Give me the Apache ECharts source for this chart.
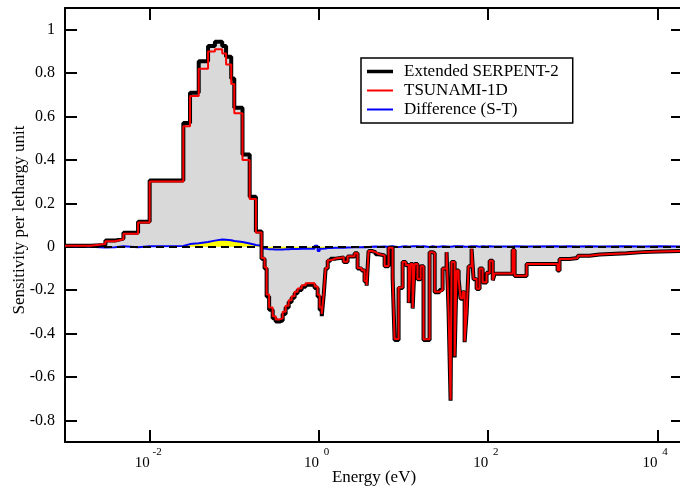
<!DOCTYPE html>
<html>
<head>
<meta charset="utf-8">
<script src="https://cdn.jsdelivr.net/npm/echarts@6/dist/echarts.min.js"></script>
<style>
  html, body { margin: 0; padding: 0; background: #fff; }
  #chart { width: 680px; height: 489px; }
</style>
</head>
<body>
<div id="chart"></div>
<script>
// energy group boundaries (eV), one more than the number of groups
const energyEdges = [
  0.001, 0.002, 0.003, 0.0039, 0.0049, 0.0073, 0.01, 0.025, 0.03, 0.038,
  0.049, 0.059, 0.072, 0.08, 0.092, 0.1, 0.125, 0.152, 0.18, 0.21,
  0.228, 0.241, 0.258, 0.284, 0.308, 0.343, 0.373, 0.404, 0.439, 0.476,
  0.516, 0.56, 0.625, 0.697, 0.889, 0.965, 1.02, 1.08, 1.14, 1.2,
  1.27, 1.37, 1.58, 1.96, 2.18, 2.64, 2.86, 3.19, 3.46, 3.66,
  3.86, 4.19, 4.67, 5.07, 5.97, 6.65, 7.42, 7.83, 8.73, 9.74,
  10.6, 11.5, 12.1, 12.8, 13.5, 14.6, 15.9, 17.2, 20.3, 22.0,
  23.3, 26.6, 28.9, 32.2, 34.0, 35.9, 36.9, 40.1, 42.3, 44.7,
  47.1, 49.8, 52.6, 55.5, 58.6, 63.6, 67.1, 72.9, 79.0, 85.8,
  95.6, 104, 113, 119, 194, 205, 284, 659, 696, 913,
  1140, 1570, 2070, 4300, 6650, 10600, 20000
];

// sensitivity per lethargy unit, one value per group
const serpent = [
  0.004, 0.008, 0.028, 0.037, 0.064, 0.115, 0.305, 0.57, 0.71, 0.855,
  0.925, 0.945, 0.925, 0.875, 0.775, 0.64, 0.425, 0.23, 0.07,
  -0.055, -0.10, -0.23, -0.29, -0.33, -0.345, -0.34, -0.31, -0.28, -0.255,
  -0.235, -0.215, -0.20, -0.185, -0.175, -0.19, -0.23, -0.29, -0.32, -0.22,
  -0.10, -0.065, -0.055, -0.05, -0.07, -0.045, -0.03, -0.10, -0.11, -0.16,
  -0.18, -0.02, -0.025, -0.035, -0.04, -0.09, -0.005, -0.14, -0.43, -0.19,
  -0.07, -0.085, -0.26, -0.08, -0.285, -0.08, -0.15, -0.09, -0.43, -0.025,
  -0.03, -0.21, -0.2, -0.1, -0.025, -0.3, -0.71, -0.07, -0.51, -0.11,
  -0.15, -0.24, -0.21, -0.44, -0.31, -0.09, -0.01, -0.15, -0.195, -0.1,
  -0.165, -0.12, -0.065, -0.155, -0.125, -0.015, -0.135, -0.08, -0.11, -0.057,
  -0.052, -0.042, -0.036, -0.03, -0.025, -0.022, -0.02
];

const tsunami = [
  0.004, 0.012, 0.025, 0.034, 0.06, 0.112, 0.30, 0.555, 0.695, 0.82,
  0.90, 0.91, 0.89, 0.84, 0.75, 0.615, 0.40, 0.22, 0.065,
  -0.052, -0.095, -0.22, -0.28, -0.32, -0.335, -0.33, -0.30, -0.272, -0.247,
  -0.228, -0.208, -0.193, -0.178, -0.168, -0.183, -0.222, -0.28, -0.31, -0.215,
  -0.098, -0.063, -0.054, -0.049, -0.069, -0.044, -0.03, -0.098, -0.108, -0.158,
  -0.177, -0.02, -0.025, -0.034, -0.04, -0.089, -0.005, -0.138, -0.425, -0.188,
  -0.07, -0.084, -0.257, -0.08, -0.282, -0.08, -0.149, -0.09, -0.426, -0.025,
  -0.03, -0.208, -0.199, -0.1, -0.025, -0.298, -0.705, -0.07, -0.505, -0.11,
  -0.149, -0.238, -0.209, -0.436, -0.308, -0.09, -0.01, -0.149, -0.194, -0.1,
  -0.164, -0.12, -0.065, -0.154, -0.124, -0.015, -0.134, -0.08, -0.109, -0.057,
  -0.052, -0.042, -0.036, -0.03, -0.025, -0.022, -0.02
];

const difference = [
  0.0, -0.004, -0.003, 0.002, -0.002, 0.002, 0.003, 0.012, 0.016, 0.022,
  0.028, 0.033, 0.032, 0.03, 0.026, 0.022, 0.015, 0.008, 0.004,
  -0.008, -0.01, -0.012, -0.012, -0.013, -0.013, -0.013, -0.012, -0.012, -0.011,
  -0.011, -0.011, -0.01, -0.01, -0.01, 0.004, -0.02, -0.01, -0.012, -0.008,
  -0.006, -0.006, -0.005, -0.005, -0.004, -0.003, -0.002, -0.002, -0.001, -0.002,
  -0.001, 0.0, 0.001, 0.0, 0.001, 0.0, 0.002, 0.0, -0.002, 0.001,
  0.002, 0.0, 0.001, 0.002, 0.0, 0.002, 0.001, 0.002, -0.001, 0.002,
  0.001, 0.0, 0.002, 0.001, 0.002, 0.0, -0.002, 0.002, 0.0, 0.002,
  0.001, 0.002, 0.0, 0.002, 0.001, 0.002, 0.001, 0.002, 0.0, 0.002,
  0.001, 0.002, 0.001, 0.002, 0.001, 0.002, 0.001, 0.002, 0.001, 0.002,
  0.001, 0.002, 0.001, 0.002, 0.001, 0.002, 0.001
];

const xTickValues = [0.01, 1, 100, 10000];
const yTickValues = [-0.8, -0.6, -0.4, -0.2, 0, 0.2, 0.4, 0.6, 0.8, 1];

const FONT = 'Liberation Serif';

// histogram: each group value held from its lower edge to the next edge
function toSteps(values) {
  return energyEdges.map((e, i) => [e, values[Math.min(i, values.length - 1)]]);
}

const chart = echarts.init(document.getElementById('chart'), null, { renderer: 'canvas' });

const frameLine = { lineStyle: { color: '#000', width: 2 } };
const tickStyle = { color: '#000', width: 2 };

const option = {
  animation: false,
  backgroundColor: '#fff',
  grid: { left: 65, top: 8, width: 618, height: 434, containLabel: false, outerBoundsMode: 'none' },
  legend: {
    data: [
      { name: 'Extended SERPENT-2', icon: 'path://M0,0L26,0L26,3.5L0,3.5Z' },
      { name: 'TSUNAMI-1D', icon: 'path://M0,0L26,0L26,2L0,2Z' },
      { name: 'Difference (S-T)', icon: 'path://M0,0L26,0L26,2L0,2Z' }
    ],
    orient: 'vertical',
    left: 361,
    top: 58,
    padding: [5, 14, 5, 6],
    itemGap: 2,
    itemWidth: 26,
    itemHeight: 14,
    borderColor: '#000',
    borderWidth: 1.5,
    borderRadius: 0,
    backgroundColor: '#fff',
    selectedMode: false,
    formatter: name => '{t|' + name + '}',
    textStyle: {
      color: '#000',
      rich: { t: { fontFamily: FONT, fontSize: 17, color: '#000', padding: [0, 0, 0, 6] } }
    }
  },
  xAxis: [
    {
      type: 'log',
      logBase: 10,
      min: 0.001,
      max: 20000,
      position: 'bottom',
      axisLine: { onZero: false, ...frameLine },
      axisTick: { inside: true, length: 12, customValues: xTickValues, lineStyle: tickStyle },
      minorTick: { show: false },
      splitLine: { show: false },
      axisLabel: {
        customValues: xTickValues,
        margin: 5,
        formatter: v => '{b|10}{s|' + Math.round(Math.log10(v)) + '}',
        rich: {
          b: { fontFamily: FONT, fontSize: 15, color: '#000', lineHeight: 24, verticalAlign: 'bottom' },
          s: { fontFamily: FONT, fontSize: 11, color: '#000', lineHeight: 24, verticalAlign: 'top', width: 15, align: 'left' }
        }
      },
      name: 'Energy (eV)',
      nameLocation: 'middle',
      nameGap: 27,
      nameMoveOverlap: false,
      nameTextStyle: { fontFamily: FONT, fontSize: 17, color: '#000' }
    },
    {
      type: 'log',
      logBase: 10,
      min: 0.001,
      max: 20000,
      position: 'top',
      axisLine: { onZero: false, ...frameLine },
      axisTick: { inside: true, length: 12, customValues: xTickValues, lineStyle: tickStyle },
      minorTick: { show: false },
      splitLine: { show: false },
      axisLabel: { show: false }
    }
  ],
  yAxis: [
    {
      type: 'value',
      min: -0.9,
      max: 1.1,
      position: 'left',
      axisLine: { onZero: false, ...frameLine },
      axisTick: { inside: true, length: 12, customValues: yTickValues, lineStyle: tickStyle },
      splitLine: { show: false },
      axisLabel: {
        customValues: yTickValues,
        margin: 10,
        fontFamily: FONT,
        fontSize: 16,
        color: '#000',
        formatter: v => String(Math.round(v * 10) / 10)
      },
      name: 'Sensitivity per lethargy unit',
      nameLocation: 'middle',
      nameGap: 37,
      nameMoveOverlap: false,
      nameTextStyle: { fontFamily: FONT, fontSize: 17, color: '#000', padding: [0, 0, 0, 10] }
    },
    {
      type: 'value',
      min: -0.9,
      max: 1.1,
      position: 'right',
      axisLine: { onZero: false, ...frameLine },
      axisTick: { inside: true, length: 12, customValues: yTickValues, lineStyle: tickStyle },
      splitLine: { show: false },
      axisLabel: { show: false }
    }
  ],
  series: [
    {
      name: 'serpent-fill',
      type: 'line',
      data: toSteps(serpent),
      step: 'end',
      symbol: 'none',
      silent: true,
      z: 1,
      lineStyle: { opacity: 0 },
      areaStyle: { color: '#d9d9d9', opacity: 1, origin: 0 }
    },
    {
      name: 'difference-fill',
      type: 'line',
      data: toSteps(difference),
      step: 'end',
      symbol: 'none',
      silent: true,
      z: 2,
      lineStyle: { opacity: 0 },
      areaStyle: { color: '#ffff00', opacity: 1, origin: 0 }
    },
    {
      name: 'Difference (S-T)',
      type: 'line',
      data: toSteps(difference),
      step: 'end',
      symbol: 'none',
      z: 3,
      itemStyle: { color: '#0000ff' },
      lineStyle: { color: '#0000ff', width: 2 },
      markLine: {
        silent: true,
        symbol: 'none',
        label: { show: false },
        lineStyle: { color: '#000', width: 2, type: [8, 5] },
        data: [{ yAxis: 0 }]
      }
    },
    {
      name: 'Extended SERPENT-2',
      type: 'line',
      data: toSteps(serpent),
      step: 'end',
      symbol: 'none',
      z: 4,
      itemStyle: { color: '#000' },
      lineStyle: { color: '#000', width: 4 }
    },
    {
      name: 'TSUNAMI-1D',
      type: 'line',
      data: toSteps(tsunami),
      step: 'end',
      symbol: 'none',
      z: 5,
      itemStyle: { color: '#ff0000' },
      lineStyle: { color: '#ff0000', width: 2 }
    }
  ]
};

chart.setOption(option);
window.addEventListener('resize', chart.resize);
</script>
</body>
</html>
